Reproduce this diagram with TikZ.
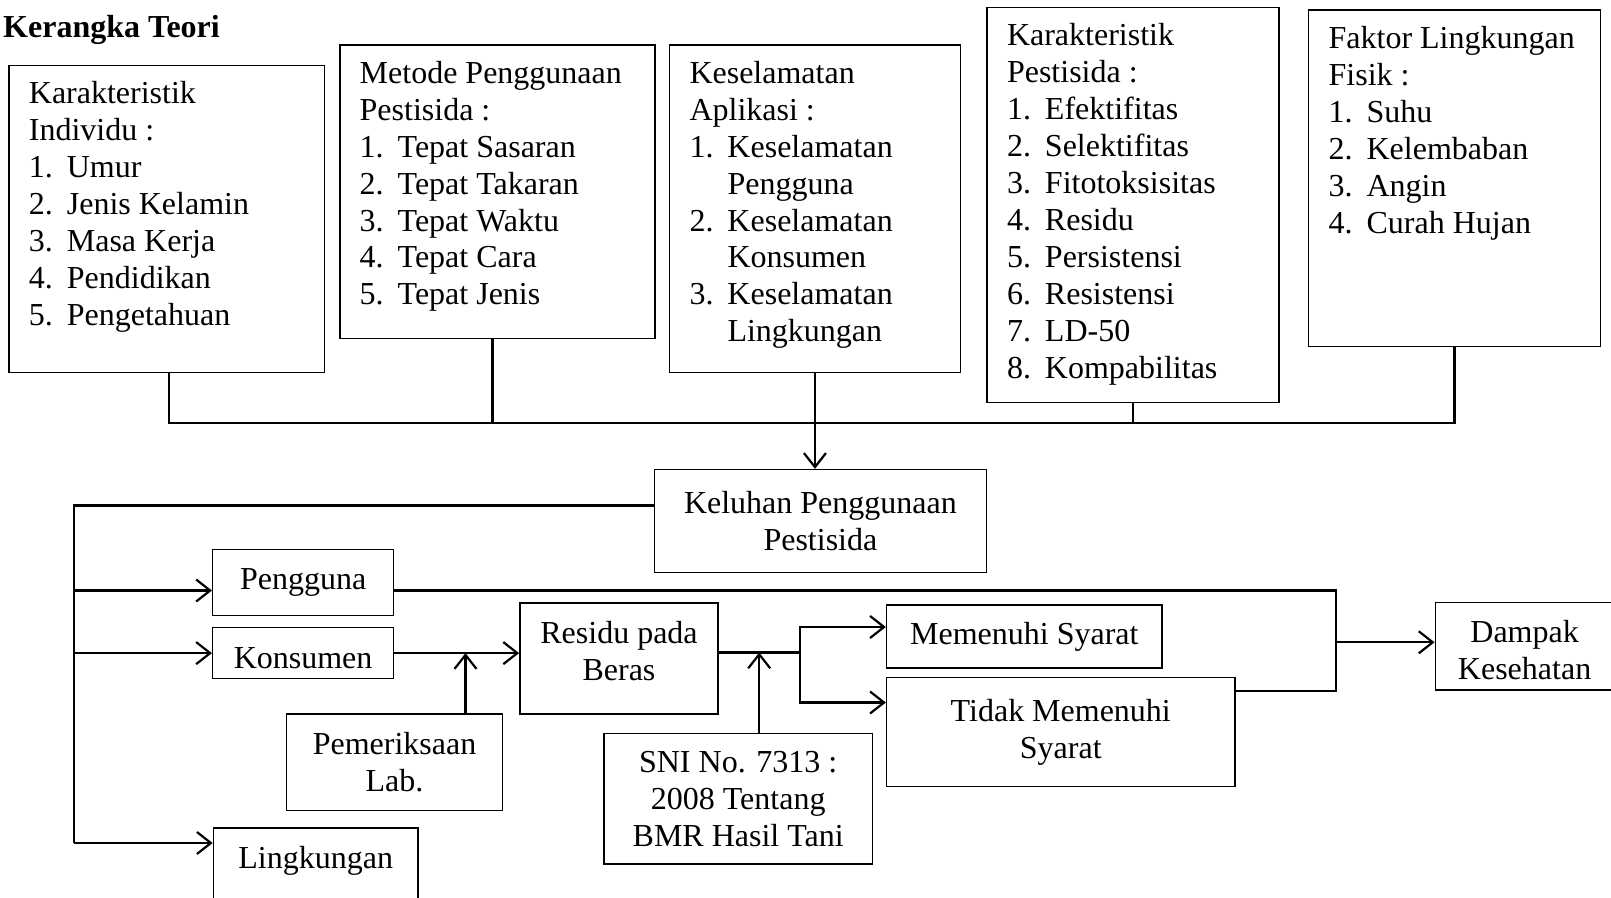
\documentclass[tikz,border=0pt]{standalone}
\usepackage{fontspec}
\setmainfont{Liberation Serif}
\usetikzlibrary{arrows.meta}

\tikzset{
  box/.style={draw, line width=1.5pt, inner sep=0pt, align=center,
    font=\fontsize{32}{36.9}\selectfont},
  list/.style={anchor=north west, inner sep=0pt, align=left,
    font=\fontsize{32}{36.9}\selectfont},
  link/.style={line width=2.2pt},
  flow/.style={line width=2.2pt, -{Straight Barb[length=14pt,width=22pt]}},
}
\newcommand{\itm}[2]{\makebox[38pt][l]{#1}#2}

\begin{document}
\begin{tikzpicture}[x=1pt, y=-1pt]
  \clip (0,0) rectangle (1611,897);

  \node[anchor=base west, inner sep=0pt, font=\fontsize{32}{36.9}\selectfont\bfseries]
    (title) at (3,37.3) {Kerangka Teori};

  % kotak faktor di atas
  \node[box, anchor=north west, minimum width=315.4pt, minimum height=307.2pt] (indiv) at (8.2,64.5) {};
  \node[list] (indivtext) at (28.7,77.7) {\strut Karakteristik\\ Individu :\\ \itm{1.}{Umur}\\
    \itm{2.}{Jenis Kelamin}\\ \itm{3.}{Masa Kerja}\\ \itm{4.}{Pendidikan}\\ \itm{5.}{Pengetahuan}};

  \node[box, anchor=north west, minimum width=315.4pt, minimum height=293.5pt] (metode) at (339,44.2) {};
  \node[list] (metodetext) at (359.5,57.4) {\strut Metode Penggunaan\\ Pestisida :\\ \itm{1.}{Tepat Sasaran}\\
    \itm{2.}{Tepat Takaran}\\ \itm{3.}{Tepat Waktu}\\ \itm{4.}{Tepat Cara}\\ \itm{5.}{Tepat Jenis}};

  \node[box, anchor=north west, minimum width=290.8pt, minimum height=327.5pt] (aplikasi) at (668.8,44.2) {};
  \node[list] (aplikasitext) at (689.3,57.4) {\strut Keselamatan\\ Aplikasi :\\ \itm{1.}{Keselamatan}\\
    \itm{}{Pengguna}\\ \itm{2.}{Keselamatan}\\ \itm{}{Konsumen}\\ \itm{3.}{Keselamatan}\\ \itm{}{Lingkungan}};

  \node[box, anchor=north west, minimum width=291.8pt, minimum height=395pt] (pestisida) at (986.3,6.7) {};
  \node[list] (pestisidatext) at (1006.8,19.9) {\strut Karakteristik\\ Pestisida :\\ \itm{1.}{Efektifitas}\\
    \itm{2.}{Selektifitas}\\ \itm{3.}{Fitotoksisitas}\\ \itm{4.}{Residu}\\ \itm{5.}{Persistensi}\\
    \itm{6.}{Resistensi}\\ \itm{7.}{LD-50}\\ \itm{8.}{Kompabilitas}};

  \node[box, anchor=north west, minimum width=291.8pt, minimum height=336.4pt] (fisik) at (1307.9,9.3) {};
  \node[list] (fisiktext) at (1328.4,22.5) {\strut Faktor Lingkungan\\ Fisik :\\ \itm{1.}{Suhu}\\
    \itm{2.}{Kelembaban}\\ \itm{3.}{Angin}\\ \itm{4.}{Curah Hujan}};

  % alur bawah
  \node[box, minimum width=331.9pt, minimum height=102.8pt] (keluhan) at (820.4,521) {Keluhan Penggunaan\\ Pestisida};
  \node[box, minimum width=180.8pt, minimum height=65.7pt] (pengguna) at (303.1,582.5) {Pengguna};
  \node[box, minimum width=180.8pt, minimum height=50.8pt, text height=31pt] (konsumen) at (303.1,653.1) {Konsumen};
  \node[box, anchor=north west, minimum width=204.5pt, minimum height=108pt] (lingkungan) at (212.7,827) {Lingkungan\\ \strut};
  \node[box, minimum width=198.3pt, minimum height=111pt, text depth=16pt] (residu) at (619,658.5) {Residu pada\\ Beras};
  \node[box, minimum width=215.8pt, minimum height=96.6pt] (lab) at (394.5,762.3) {Pemeriksaan\\ Lab.};
  \node[box, minimum width=268.2pt, minimum height=130.4pt] (sni) at (738.2,798.8) {SNI No. 7313 :\\ 2008 Tentang\\ BMR Hasil Tani};
  \node[box, minimum width=275.4pt, minimum height=63pt] (memenuhi) at (1024.3,636.5) {Memenuhi Syarat};
  \node[box, minimum width=348.4pt, minimum height=109pt] (tidak) at (1060.8,732) {Tidak Memenuhi\\ Syarat};
  \node[box, minimum width=178.6pt, minimum height=87.7pt, text height=66.8pt] (dampak) at (1524.6,646.3) {Dampak\\ Kesehatan};

  % garis pengumpul
  \coordinate (bus) at (0,423);
  \coordinate (indivOut) at ([xshift=2.5pt]indiv.south);
  \coordinate (metodeOut) at ([xshift=-5pt]metode.south);
  \draw[link] (indivOut) |- (fisik.south |- bus) -- (fisik.south);
  \draw[link] (metodeOut) -- (metodeOut |- bus);
  \draw[link] (pestisida.south) -- (pestisida.south |- bus);
  \draw[flow] (aplikasi.south) -- (aplikasi.south |- keluhan.north);

  % cabang kiri
  \coordinate (trunk) at (74,505.5);
  \coordinate (pgIn) at ([yshift=-8pt]pengguna.west);
  \coordinate (lgIn) at ([yshift=-16pt]lingkungan.north west);
  \draw[link] ([yshift=15.5pt]keluhan.west) -- (trunk) -- (trunk |- lgIn);
  \draw[flow] (trunk |- pgIn) -- (pgIn);
  \draw[flow] (trunk |- konsumen.west) -- (konsumen.west);
  \draw[flow] (trunk |- lgIn) -- (lgIn);

  % residu
  \draw[flow] (konsumen.east) -- (konsumen.east -| residu.west);
  \coordinate (labUp) at ([xshift=71pt]lab.north);
  \draw[flow] (labUp) -- (labUp |- konsumen.east);

  \coordinate (rsOut) at ([yshift=6pt]residu.east);
  \coordinate (split) at (800.3,0);
  \coordinate (msIn) at ([yshift=9.5pt]memenuhi.west);
  \coordinate (tdIn) at ([yshift=29.5pt]tidak.west);
  \draw[link] (rsOut) -- (split |- rsOut);
  \draw[flow] (split |- rsOut) |- (msIn);
  \draw[flow] (split |- rsOut) |- (tdIn);
  \coordinate (sniUp) at ([xshift=21pt]sni.north);
  \draw[flow] (sniUp) -- (sniUp |- rsOut);

  % dampak
  \coordinate (pgOut) at ([yshift=-8pt]pengguna.east);
  \coordinate (tdOut) at ([yshift=41pt]tidak.east);
  \coordinate (merge) at (1335.6,0);
  \coordinate (dpIn) at ([yshift=4pt]dampak.west);
  \draw[link] (pgOut) -| (merge |- tdOut) -- (tdOut);
  \draw[flow] (merge |- dpIn) -- (dpIn);
\end{tikzpicture}
\end{document}
